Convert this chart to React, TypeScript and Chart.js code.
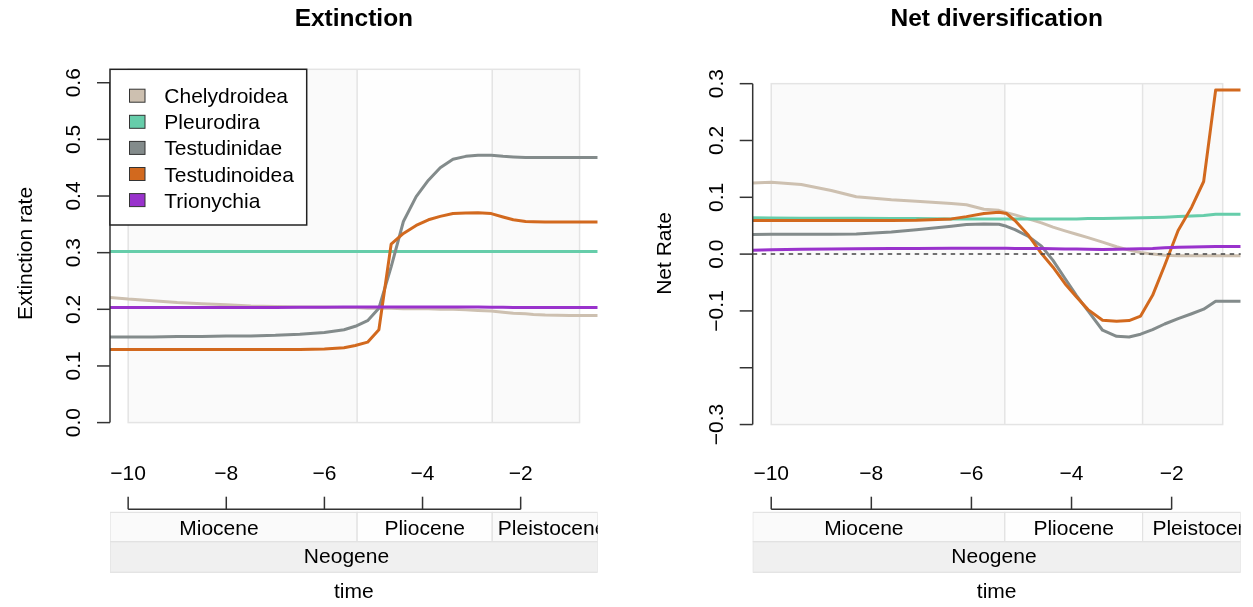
import { useEffect, useRef } from "react";
import { Chart, registerables } from "chart.js";

Chart.register(...registerables);

// ---------- data ----------
const SERIES = ["Chelydroidea", "Pleurodira", "Testudinidae", "Testudinoidea", "Trionychia"];
const COLORS = ["#CDC0B0", "#66CDAA", "#838B8B", "#D2691E", "#9932CC"];

// Extinction panel
const EXT_TIME = [-10.37, -10, -9.5, -9, -8.5, -8, -7.5, -7, -6.5, -6, -5.6, -5.37, -5.12, -4.89, -4.64, -4.39, -4.13, -3.88, -3.64, -3.38, -3.12, -2.87, -2.6, -2.36, -2.15, -1.9, -1.74, -1.5, -1, -0.43];
const EXT_CHELYDROIDEA = [0.221, 0.218, 0.215, 0.212, 0.21, 0.208, 0.206, 0.205, 0.204, 0.204, 0.203, 0.203, 0.202, 0.202, 0.202, 0.201, 0.201, 0.201, 0.2, 0.2, 0.199, 0.198, 0.197, 0.195, 0.193, 0.192, 0.191, 0.19, 0.189, 0.189];
const EXT_PLEURODIRA = [0.302, 0.302, 0.302, 0.302, 0.302, 0.302, 0.302, 0.302, 0.302, 0.302, 0.302, 0.302, 0.302, 0.302, 0.302, 0.302, 0.302, 0.302, 0.302, 0.302, 0.302, 0.302, 0.302, 0.302, 0.302, 0.302, 0.302, 0.302, 0.302, 0.302];
const EXT_TESTUDINIDAE = [0.151, 0.151, 0.151, 0.152, 0.152, 0.153, 0.153, 0.154, 0.156, 0.159, 0.164, 0.17, 0.18, 0.202, 0.275, 0.355, 0.399, 0.428, 0.45, 0.465, 0.47, 0.472, 0.472, 0.47, 0.469, 0.468, 0.468, 0.468, 0.468, 0.468];
const EXT_TESTUDINOIDEA = [0.129, 0.129, 0.129, 0.129, 0.129, 0.129, 0.129, 0.129, 0.129, 0.13, 0.132, 0.136, 0.142, 0.164, 0.315, 0.334, 0.348, 0.358, 0.364, 0.369, 0.37, 0.3705, 0.369, 0.363, 0.358, 0.355, 0.3545, 0.354, 0.354, 0.354];
const EXT_TRIONYCHIA = [0.203, 0.203, 0.203, 0.203, 0.203, 0.203, 0.203, 0.203, 0.2035, 0.2035, 0.204, 0.204, 0.204, 0.204, 0.204, 0.204, 0.204, 0.204, 0.204, 0.204, 0.204, 0.204, 0.2035, 0.2035, 0.203, 0.203, 0.203, 0.203, 0.203, 0.203];

// Net diversification panel
const NET_TIME = [-10.37, -10, -9.4, -8.8, -8.3, -7.6, -7.1, -6.4, -6.1, -5.75, -5.45, -5.3, -5.13, -4.86, -4.6, -4.37, -4.13, -3.9, -3.67, -3.38, -3.1, -2.85, -2.62, -2.38, -2.14, -1.87, -1.6, -1.36, -1.12, -0.62];
const NET_CHELYDROIDEA = [0.125, 0.1265, 0.1225, 0.112, 0.101, 0.0956, 0.093, 0.089, 0.087, 0.079, 0.077, 0.073, 0.069, 0.062, 0.055, 0.0475, 0.041, 0.035, 0.029, 0.021, 0.013, 0.007, 0.003, 0.0, -0.002, -0.003, -0.003, -0.003, -0.003, -0.003];
const NET_PLEURODIRA = [0.064, 0.0635, 0.063, 0.063, 0.063, 0.0625, 0.0625, 0.062, 0.062, 0.062, 0.062, 0.062, 0.062, 0.062, 0.062, 0.062, 0.062, 0.062, 0.0625, 0.0625, 0.063, 0.0635, 0.064, 0.0645, 0.065, 0.066, 0.067, 0.068, 0.07, 0.07];
const NET_TESTUDINIDAE = [0.0346, 0.035, 0.035, 0.035, 0.0355, 0.039, 0.043, 0.049, 0.052, 0.053, 0.0525, 0.049, 0.043, 0.031, 0.014, -0.011, -0.043, -0.073, -0.1, -0.134, -0.1446, -0.146, -0.141, -0.133, -0.123, -0.1135, -0.105, -0.097, -0.083, -0.083];
const NET_TESTUDINOIDEA = [0.059, 0.059, 0.059, 0.059, 0.059, 0.059, 0.0595, 0.062, 0.066, 0.0715, 0.0735, 0.0715, 0.059, 0.033, 0.001, -0.023, -0.052, -0.0756, -0.0977, -0.1165, -0.1183, -0.117, -0.109, -0.0726, -0.02, 0.0417, 0.0826, 0.1278, 0.289, 0.289];
const NET_TRIONYCHIA = [0.007, 0.0075, 0.0085, 0.009, 0.0095, 0.01, 0.01, 0.0105, 0.0105, 0.0105, 0.0105, 0.0105, 0.01, 0.01, 0.0098, 0.0095, 0.0092, 0.009, 0.0085, 0.008, 0.0085, 0.009, 0.0095, 0.01, 0.011, 0.012, 0.0125, 0.013, 0.0135, 0.0135];

// ticks
const EXT_Y_TICKS = [0, 0.1, 0.2, 0.3, 0.4, 0.5, 0.6];
const EXT_Y_LABELS = ["0.0", "0.1", "0.2", "0.3", "0.4", "0.5", "0.6"];
const NET_Y_TICKS = [-0.3, -0.2, -0.1, 0, 0.1, 0.2, 0.3];
const NET_Y_LABELS = ["\u22120.3", "", "\u22120.1", "0.0", "0.1", "0.2", "0.3"];
const X_TICKS = [-10, -8, -6, -4, -2];
const X_LABELS = ["\u221210", "\u22128", "\u22126", "\u22124", "\u22122"];

// geological time scale (Ma, negative = before present)
const EPOCHS = ["Miocene", "Pliocene", "Pleistocene"];
const EPOCH_START = [-23.03, -5.333, -2.58];
const EPOCH_END = [-5.333, -2.58, -0.0117];
const PERIODS = ["Neogene"];
const PERIOD_START = [-23.03];
const PERIOD_END = [0];

// ---------- styles / layout ----------
const FONT = '"Liberation Sans", Arial, Helvetica, sans-serif';
const FS = 21;
const EPOCH_FILL = ["#fafafa", "#fefefe", "#fafafa"];
const PERIOD_FILL = ["#f0f0f0"];
const GEO = { epochTop: 512.3, epochBottom: 541.7, periodBottom: 572.3 };

type Panel = {
  id: string;
  title: string;
  yTitle: string;
  yTitleOffset: number;
  time: number[];
  values: number[][];
  xMin: number;
  xMax: number;
  yMin: number;
  yMax: number;
  yTicks: number[];
  yLabels: string[];
  bgLeft: number;
  bgRight: number;
  bgBottom: number;
  bgTop: number | null;
  legend: boolean;
  zeroLine: boolean;
  labelAt: Record<string, number>;
  padding: { left: number; right: number; top: number; bottom: number };
};

const PANELS: Panel[] = [
  {
    id: "ext",
    title: "Extinction",
    yTitle: "Extinction rate",
    yTitleOffset: 78,
    time: EXT_TIME,
    values: [EXT_CHELYDROIDEA, EXT_PLEURODIRA, EXT_TESTUDINIDAE, EXT_TESTUDINOIDEA, EXT_TRIONYCHIA],
    xMin: -10.37,
    xMax: -0.43,
    yMin: -0.0263,
    yMax: 0.6237,
    yTicks: EXT_Y_TICKS,
    yLabels: EXT_Y_LABELS,
    bgLeft: -10,
    bgRight: -0.8,
    bgBottom: 0,
    bgTop: null,
    legend: true,
    zeroLine: false,
    labelAt: { Miocene: -8.15, Neogene: -5.55, Pleistocene: -1.36 },
    padding: { left: 110, right: 28.3, top: 69.3, bottom: 169.5 },
  },
  {
    id: "net",
    title: "Net diversification",
    yTitle: "Net Rate",
    yTitleOffset: 82,
    time: NET_TIME,
    values: [NET_CHELYDROIDEA, NET_PLEURODIRA, NET_TESTUDINIDAE, NET_TESTUDINOIDEA, NET_TRIONYCHIA],
    xMin: -10.37,
    xMax: -0.62,
    yMin: -0.3228,
    yMax: 0.3253,
    yTicks: NET_Y_TICKS,
    yLabels: NET_Y_LABELS,
    bgLeft: -10,
    bgRight: -0.98,
    bgBottom: -0.3,
    bgTop: 0.3,
    legend: false,
    zeroLine: true,
    labelAt: { Miocene: -8.15, Neogene: -5.55, Pleistocene: -1.3 },
    padding: { left: 126.7, right: 12.3, top: 69.3, bottom: 169.5 },
  },
];

function makePlugin(p: Panel) {
  return {
    id: "rstyle_" + p.id,
    beforeDatasetsDraw(chart: any) {
      const { ctx, chartArea: a, scales } = chart;
      const xs = scales.x, ys = scales.y;
      const top = p.bgTop === null ? a.top : ys.getPixelForValue(p.bgTop);
      const bot = ys.getPixelForValue(p.bgBottom);
      const l = xs.getPixelForValue(p.bgLeft);
      const r = xs.getPixelForValue(p.bgRight);
      ctx.save();
      EPOCHS.forEach((_, i) => {
        const s = Math.max(EPOCH_START[i], p.bgLeft);
        const e = Math.min(EPOCH_END[i], p.bgRight);
        if (e <= s) return;
        const x0 = xs.getPixelForValue(s), x1 = xs.getPixelForValue(e);
        ctx.fillStyle = EPOCH_FILL[i];
        ctx.fillRect(x0, top, x1 - x0, bot - top);
      });
      ctx.strokeStyle = "#e4e4e4";
      ctx.lineWidth = 1.5;
      EPOCH_START.forEach((s) => {
        if (s <= p.bgLeft || s >= p.bgRight) return;
        const xp = xs.getPixelForValue(s);
        ctx.beginPath();
        ctx.moveTo(xp, top);
        ctx.lineTo(xp, bot);
        ctx.stroke();
      });
      ctx.strokeRect(l, top, r - l, bot - top);
      ctx.restore();
    },
    afterDatasetsDraw(chart: any) {
      if (!p.zeroLine) return;
      const { ctx, chartArea: a, scales } = chart;
      const y0 = scales.y.getPixelForValue(0);
      ctx.save();
      ctx.strokeStyle = "#444";
      ctx.lineWidth = 1.5;
      ctx.setLineDash([4.5, 4.5]);
      ctx.beginPath();
      ctx.moveTo(a.left, y0);
      ctx.lineTo(a.right, y0);
      ctx.stroke();
      ctx.restore();
    },
    afterDraw(chart: any) {
      const { ctx, chartArea: a, scales } = chart;
      const xs = scales.x, ys = scales.y;
      ctx.save();
      const cx = (a.left + a.right) / 2;

      // title
      ctx.fillStyle = "#000";
      ctx.font = `bold 24.5px ${FONT}`;
      ctx.textAlign = "center";
      ctx.textBaseline = "alphabetic";
      ctx.fillText(p.title, cx, 26);

      // y axis
      ctx.strokeStyle = "#333";
      ctx.lineWidth = 1.5;
      const yt0 = ys.getPixelForValue(p.yTicks[0]);
      const yt1 = ys.getPixelForValue(p.yTicks[p.yTicks.length - 1]);
      ctx.beginPath();
      ctx.moveTo(a.left, yt0);
      ctx.lineTo(a.left, yt1);
      ctx.stroke();
      ctx.font = `${FS}px ${FONT}`;
      p.yTicks.forEach((v, i) => {
        const yp = ys.getPixelForValue(v);
        ctx.beginPath();
        ctx.moveTo(a.left - 13, yp);
        ctx.lineTo(a.left, yp);
        ctx.stroke();
        if (!p.yLabels[i]) return;
        ctx.save();
        ctx.translate(a.left - 30, yp);
        ctx.rotate(-Math.PI / 2);
        ctx.fillText(p.yLabels[i], 0, 0);
        ctx.restore();
      });
      // y title
      ctx.save();
      ctx.translate(a.left - p.yTitleOffset, (a.top + a.bottom) / 2);
      ctx.rotate(-Math.PI / 2);
      ctx.fillText(p.yTitle, 0, 0);
      ctx.restore();

      // x axis bracket (above geo scale)
      const xl = xs.getPixelForValue(X_TICKS[0]);
      const xr = xs.getPixelForValue(X_TICKS[X_TICKS.length - 1]);
      ctx.beginPath();
      ctx.moveTo(xl, 509.3);
      ctx.lineTo(xr, 509.3);
      ctx.stroke();
      X_TICKS.forEach((t, i) => {
        const xp = xs.getPixelForValue(t);
        ctx.beginPath();
        ctx.moveTo(xp, 509.3);
        ctx.lineTo(xp, 496.7);
        ctx.stroke();
        ctx.fillText(X_LABELS[i], xp, 480);
      });

      // geo scale
      ctx.save();
      ctx.beginPath();
      ctx.rect(a.left, GEO.epochTop - 1, a.right - a.left, GEO.periodBottom - GEO.epochTop + 2);
      ctx.clip();
      const drawRow = (names: string[], starts: number[], ends: number[], fills: string[], y0: number, y1: number, base: number) => {
        names.forEach((name, i) => {
          const s = Math.max(starts[i], p.xMin);
          const e = Math.min(ends[i], p.xMax);
          if (e <= s) return;
          const x0 = xs.getPixelForValue(s), x1 = xs.getPixelForValue(e);
          ctx.fillStyle = fills[i];
          ctx.fillRect(x0, y0, x1 - x0, y1 - y0);
          ctx.strokeStyle = "#e2e2e2";
          ctx.lineWidth = 1.2;
          ctx.strokeRect(x0, y0, x1 - x0, y1 - y0);
        });
        names.forEach((name, i) => {
          const s = Math.max(starts[i], p.xMin);
          const e = Math.min(ends[i], p.xMax);
          if (e <= s) return;
          const at = p.labelAt[name] !== undefined ? p.labelAt[name] : (s + e) / 2;
          ctx.fillStyle = "#000";
          ctx.font = `${FS}px ${FONT}`;
          ctx.textAlign = "center";
          ctx.fillText(name, xs.getPixelForValue(at), base);
        });
      };
      drawRow(EPOCHS, EPOCH_START, EPOCH_END, EPOCH_FILL, GEO.epochTop, GEO.epochBottom, 535);
      drawRow(PERIODS, PERIOD_START, PERIOD_END, PERIOD_FILL, GEO.epochBottom, GEO.periodBottom, 562.5);
      ctx.restore();

      // x title
      ctx.fillStyle = "#000";
      ctx.font = `${FS}px ${FONT}`;
      ctx.textAlign = "center";
      ctx.fillText("time", cx, 598);

      // legend
      if (p.legend) {
        const lx = a.left, ly = a.top, lw = 196.7, lh = 155.7;
        ctx.fillStyle = "#ffffff";
        ctx.fillRect(lx, ly, lw, lh);
        ctx.strokeStyle = "#222";
        ctx.lineWidth = 1.5;
        ctx.strokeRect(lx, ly, lw, lh);
        chart.data.datasets.forEach((ds: any, i: number) => {
          const rowY = 95.7 + i * 26.1;
          ctx.fillStyle = ds.borderColor;
          ctx.fillRect(129.5, rowY - 6.5, 15.5, 13);
          ctx.strokeStyle = "#333";
          ctx.lineWidth = 1;
          ctx.strokeRect(129.5, rowY - 6.5, 15.5, 13);
          ctx.fillStyle = "#000";
          ctx.textAlign = "left";
          ctx.font = `${FS}px ${FONT}`;
          ctx.fillText(ds.label, 164.3, rowY + 7.5);
        });
      }
      ctx.restore();
    },
  };
}

function PanelChart({ p, left, width }: { p: Panel; left: number; width: number }) {
  const ref = useRef<HTMLCanvasElement | null>(null);
  useEffect(() => {
    if (!ref.current) return;
    const chart = new Chart(ref.current, {
      type: "line",
      data: {
        datasets: SERIES.map((name, i) => ({
          label: name,
          data: p.time.map((t, j) => ({ x: t, y: p.values[i][j] })),
          borderColor: COLORS[i],
          backgroundColor: COLORS[i],
          borderWidth: 3,
          pointRadius: 0,
          tension: 0,
          fill: false,
          borderJoinStyle: "round",
          order: SERIES.length - i,
        })),
      },
      options: {
        animation: false,
        responsive: false,
        devicePixelRatio: 1,
        layout: { padding: p.padding },
        events: [],
        scales: {
          x: { type: "linear", min: p.xMin, max: p.xMax, display: false },
          y: { type: "linear", min: p.yMin, max: p.yMax, display: false },
        },
        plugins: { legend: { display: false }, tooltip: { enabled: false } },
      },
      plugins: [makePlugin(p)],
    } as any);
    return () => chart.destroy();
  }, [p]);
  return (
    <canvas
      ref={ref}
      width={width}
      height={607}
      style={{ position: "absolute", left, top: 0, width, height: 607, display: "block" }}
    />
  );
}

export default function App() {
  return (
    <div style={{ position: "absolute", left: 0, top: 0, width: 1253, height: 607, background: "#fff" }}>
      <PanelChart p={PANELS[0]} left={0} width={626} />
      <PanelChart p={PANELS[1]} left={626} width={627} />
    </div>
  );
}
